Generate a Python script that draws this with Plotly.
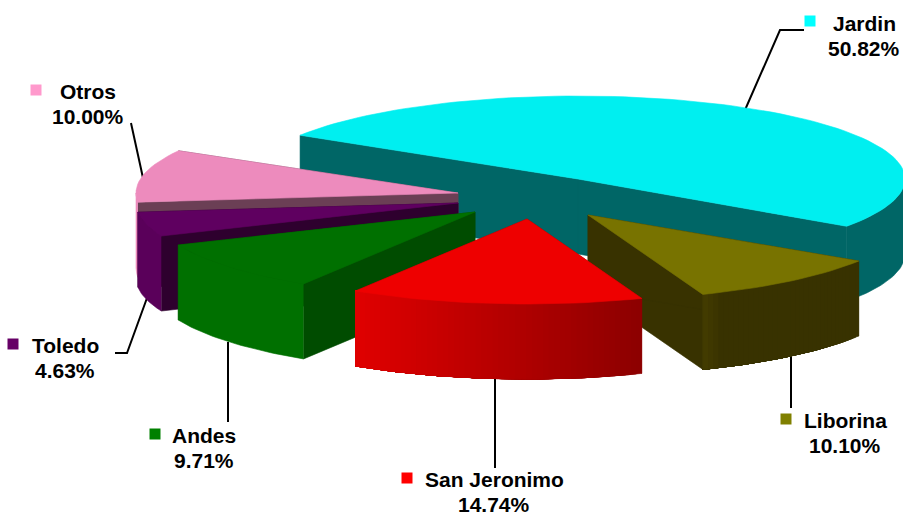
import math
import plotly.graph_objects as go

# ---- data -------------------------------------------------------------
labels = ["Jardin", "Liborina", "San Jeronimo", "Andes", "Toledo", "Otros"]
shares = [50.82, 10.10, 14.74, 9.71, 4.63, 10.00]

# ---- style ------------------------------------------------------------
top_colors = ["#00EFF0", "#787300", "#EE0000", "#007000", "#5F0060", "#ED8BBD"]
cut_colors = ["#006666", "#383200", "#8F0000", "#004C00", "#2E002E", "#6B3F55"]
wall_left = ["#006666", "#443C00", "#E00000", "#007000", "#5A005A", "#ED8BBD"]
wall_right = ["#006666", "#383200", "#8C0000", "#007000", "#5A005A", "#ED8BBD"]
swatch_colors = ["#00FFFF", "#808000", "#FF0000", "#008000", "#660066", "#FF99CC"]

START_ANGLE = -60.2
angle_nudge = [2.0, 0, 0, 0, 0, 0]
DEPTH = 75
RX = [327, 322, 322, 322, 322, 322]
RY = [83, 85, 85, 85, 85, 85]
apex_x = [578, 588, 527, 475, 458, 458]
apex_y = [179, 215, 219, 212, 203, 193]
draw_order = [0, 5, 4, 1, 3, 2]
label_x = [864, 845, 494, 204, 65, 88]
label_y = [36, 433, 492, 448, 358, 104]
LINE_GAP = 12.5
swatch_x = [810, 786, 407, 155, 13, 36]
swatch_y = [21, 419, 478, 434, 344, 90]
leader_x = [[804, 780, 745], [791, 791], [495, 495], [228, 228], [115, 127, 147], [131, 143]]
leader_y = [[30, 30, 110], [355, 408], [378, 468], [342, 422], [353, 353, 298], [123, 178]]
FONT = "Liberation Sans, Arial, sans-serif"

fig = go.Figure()


def poly(xs, ys, color):
    fig.add_trace(go.Scatter(
        x=xs, y=ys, mode="lines", fill="toself", fillcolor=color,
        line=dict(color=color, width=0.6), hoverinfo="skip", showlegend=False))


def mix(c1, c2, t):
    a = [int(c1[i:i + 2], 16) for i in (1, 3, 5)]
    b = [int(c2[i:i + 2], 16) for i in (1, 3, 5)]
    return "#%02X%02X%02X" % tuple(round(p + (q - p) * t) for p, q in zip(a, b))


# leader lines
for lx, ly in zip(leader_x, leader_y):
    fig.add_trace(go.Scatter(x=lx, y=ly, mode="lines",
                             line=dict(color="#000000", width=2),
                             hoverinfo="skip", showlegend=False))

# angular spans from the values
total = sum(shares)
spans = []
a0 = START_ANGLE
for v, nudge in zip(shares, angle_nudge):
    a1 = a0 + v / total * 360
    spans.append((a0 + nudge, a1 + nudge))
    a0 = a1

for i in draw_order:
    s, e = spans[i]
    cx, cy, rx, ry = apex_x[i], apex_y[i], RX[i], RY[i]

    def pt(t):
        r = math.radians(t)
        return cx + rx * math.sin(r), cy - ry * math.cos(r)

    # radial cut faces
    for t in (e, s):
        px, py = pt(t)
        poly([cx, px, px, cx, cx], [cy, py, py + DEPTH, cy + DEPTH, cy], cut_colors[i])

    # outer wall, front-facing part only (angle between 90 and 270)
    w0, w1 = max(s, 90), min(e, 270)
    if w1 > w0:
        n = max(2, int((w1 - w0) / 1.0))
        angles = [w0 + (w1 - w0) * k / n for k in range(n + 1)]
        pts = [pt(t) for t in angles]
        xmin, xmax = min(p[0] for p in pts), max(p[0] for p in pts)
        flat = wall_left[i] == wall_right[i]
        # each band reaches to the far end of the wall, so later bands paint
        # over earlier ones and no seams show between them
        for k in range(1 if flat else n):
            rest = pts[k:]
            f = ((pts[k][0] + pts[k + 1][0]) / 2 - xmin) / (xmax - xmin)
            if i == 1:
                f = min(1, f / 0.12)
            col = mix(wall_left[i], wall_right[i], f)
            poly([p[0] for p in rest] + [p[0] for p in reversed(rest)],
                 [p[1] for p in rest] + [p[1] + DEPTH for p in reversed(rest)], col)

    # top face
    n = max(4, int((e - s) / 2))
    arc = [pt(s + (e - s) * k / n) for k in range(n + 1)]
    poly([cx] + [p[0] for p in arc] + [cx], [cy] + [p[1] for p in arc] + [cy], top_colors[i])

# legend swatches
fig.add_trace(go.Scatter(
    x=swatch_x, y=swatch_y, mode="markers",
    marker=dict(symbol="square", size=11, color=swatch_colors, line=dict(width=0)),
    hoverinfo="skip", showlegend=False))

# labels: two separate lines, tighter than the default line spacing
for name, v, x, y in zip(labels, shares, label_x, label_y):
    for txt, yy in ((name, y - LINE_GAP), (f"{v:.2f}%", y + LINE_GAP)):
        fig.add_annotation(x=x, y=yy, xref="x", yref="y", showarrow=False,
                           text=f"<b>{txt}</b>", align="center",
                           font=dict(family=FONT, size=21, color="#000000"))

fig.update_layout(
    width=903, height=517, margin=dict(l=0, r=0, t=0, b=0),
    paper_bgcolor="#FFFFFF", plot_bgcolor="#FFFFFF", showlegend=False,
    xaxis=dict(range=[0, 903], visible=False, fixedrange=True),
    yaxis=dict(range=[517, 0], visible=False, fixedrange=True),
)
fig.write_html("out.html", config={"displayModeBar": False},
               post_script="document.body.style.margin='0';")
